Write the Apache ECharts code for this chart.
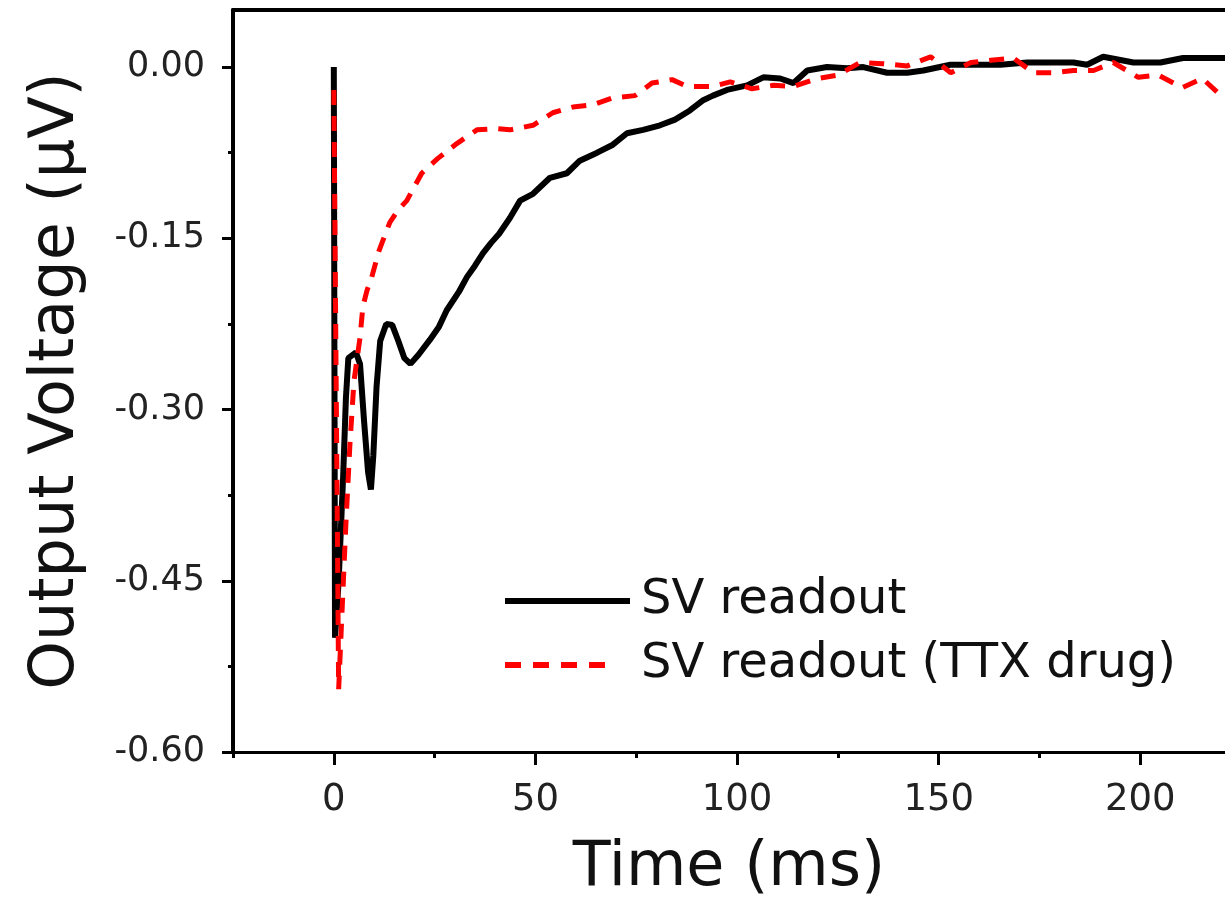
<!DOCTYPE html>
<html>
<head>
<meta charset="utf-8">
<script src="https://cdn.jsdelivr.net/npm/echarts@6/dist/echarts.min.js"></script>
<style>
  html, body { margin: 0; padding: 0; background: #fff; }
  #chart { width: 1225px; height: 899px; }
</style>
</head>
<body>
<div id="chart"></div>
<script>
// SV readout (black, solid)
const timeBlack = [0, 0.3, 1.2, 2.3, 3.0, 3.6, 5.5, 6.5, 7.5, 8.5,
  9.2, 9.8, 10.6, 11.5, 13, 14.5, 16, 17.5, 19, 21,
  23.8, 26, 28, 31, 33, 35, 37, 39, 41, 43.7,
  46.2, 49.4, 51.5, 53.6, 57.8, 61, 65.3, 69.2, 72.7, 76.7,
  80.9, 84.6, 88.3, 91.6, 94, 97.5, 102.5, 106.5, 110.7, 114,
  117.4, 122.3, 127.3, 131.3, 137.2, 142.2, 146.2, 152.9, 161, 165.3,
  172, 177.7, 183.4, 186.8, 190.8, 198.3, 205, 210.6, 221]
const voltBlack = [0, -0.50, -0.45, -0.36, -0.29, -0.255, -0.25, -0.26, -0.31, -0.355,
  -0.37, -0.34, -0.28, -0.24, -0.225, -0.226, -0.24, -0.255, -0.26, -0.252,
  -0.239, -0.228, -0.213, -0.197, -0.184, -0.174, -0.163, -0.154, -0.146, -0.132,
  -0.117, -0.111, -0.104, -0.097, -0.093, -0.082, -0.075, -0.068, -0.058, -0.055,
  -0.051, -0.046, -0.038, -0.029, -0.025, -0.020, -0.016, -0.009, -0.010, -0.014,
  -0.003, 0.000, -0.001, 0.000, -0.005, -0.005, -0.003, 0.002, 0.002, 0.002,
  0.004, 0.004, 0.004, 0.002, 0.009, 0.004, 0.004, 0.008, 0.008]

// SV readout with TTX drug (red, dashed)
const timeRed = [0, 1.2, 2.0, 3.0, 4.0, 5.0, 6.5, 7.2, 8.2, 9.4,
  11.2, 13.9, 16, 18.1, 21.8, 25.8, 30.5, 35.5, 40.4, 43.7,
  49.4, 54.3, 59.3, 64.3, 69.2, 74.7, 78.9, 83.9, 87.6, 94,
  98.3, 103.7, 109, 114, 120, 125, 130.5, 136, 142.2, 148,
  153, 158, 163, 168.5, 173.5, 178.5, 183.4, 188.4, 193.3, 199.5,
  204.5, 210.4, 215.4, 220]
const voltRed = [-0.02, -0.545, -0.48, -0.40, -0.33, -0.275, -0.237, -0.21, -0.196, -0.184,
  -0.161, -0.136, -0.125, -0.117, -0.093, -0.080, -0.067, -0.055, -0.054, -0.055,
  -0.051, -0.040, -0.035, -0.033, -0.027, -0.025, -0.014, -0.011, -0.017, -0.017,
  -0.013, -0.019, -0.016, -0.017, -0.010, -0.007, 0.004, 0.003, 0.001, 0.009,
  -0.005, 0.004, 0.006, 0.008, -0.005, -0.005, -0.003, -0.003, 0.004, -0.009,
  -0.007, -0.018, -0.010, -0.025]

const xMajorTicks = [0, 50, 100, 150, 200]
const xMinorTicks = [-25, 25, 75, 125, 175]
const yMajorTicks = [0, -0.15, -0.3, -0.45, -0.6]
const yMinorTicks = [-0.075, -0.225, -0.375, -0.525]

const seriesNames = ['SV readout', 'SV readout (TTX drug)']

const FONT = 'DejaVu Sans'
const X_MIN = -25, X_MAX = 221, Y_MIN = -0.6, Y_MAX = 0.05

// legend swatches: solid bar, and four dashes (tiny dot at the far end keeps the dash spacing)
const ICON_SOLID = 'rect'
const ICON_DASHED = 'path://M0,0h16v6h-16z M28,0h16v6h-16z M56,0h16v6h-16z M84,0h16v6h-16z M124.9,2.9h0.1v0.1h-0.1z'

const zip = (xs, ys) => xs.map((x, i) => [x, ys[i]])

const chart = echarts.init(document.getElementById('chart'))

const baseX = { type: 'value', min: X_MIN, max: X_MAX, splitLine: { show: false } }
const baseY = { type: 'value', min: Y_MIN, max: Y_MAX, splitLine: { show: false } }

chart.setOption({
  animation: false,
  backgroundColor: '#fff',
  grid: { left: 233, right: 0, top: 10, bottom: 147, containLabel: false, outerBoundsMode: 'none' },
  legend: {
    data: [
      { name: seriesNames[0], icon: ICON_SOLID, itemStyle: { color: '#000' } },
      { name: seriesNames[1], icon: ICON_DASHED, itemStyle: { color: '#ff0000' } }
    ],
    orient: 'vertical',
    left: 500,
    top: 572,
    itemWidth: 125,
    itemHeight: 6,
    itemGap: 16,
    textStyle: { fontFamily: FONT, fontSize: 48, color: '#111', padding: [0, 0, 0, 6] }
  },
  xAxis: [
    {
      ...baseX,
      position: 'bottom',
      name: 'Time (ms)',
      nameLocation: 'middle',
      nameGap: 86,
      nameTextStyle: { fontFamily: FONT, fontSize: 62, color: '#111' },
      axisLine: { onZero: false, lineStyle: { color: '#000', width: 3 } },
      axisTick: { customValues: xMajorTicks, length: 13, lineStyle: { color: '#000', width: 3 } },
      axisLabel: { customValues: xMajorTicks, margin: 30, fontFamily: FONT, fontSize: 37, color: '#222' }
    },
    {
      ...baseX,
      position: 'bottom',
      axisLine: { show: false, onZero: false },
      axisTick: { customValues: xMinorTicks, length: 6, lineStyle: { color: '#000', width: 3 } },
      axisLabel: { show: false }
    },
    {
      ...baseX,
      position: 'top',
      axisLine: { onZero: false, lineStyle: { color: '#000', width: 4 } },
      axisTick: { show: false },
      axisLabel: { show: false }
    }
  ],
  yAxis: [
    {
      ...baseY,
      position: 'left',
      name: 'Output Voltage (\u03BCV)',
      nameLocation: 'middle',
      nameGap: 145,
      nameTextStyle: { fontFamily: FONT, fontSize: 62, color: '#111' },
      axisLine: { onZero: false, lineStyle: { color: '#000', width: 4 } },
      axisTick: { customValues: yMajorTicks, length: 11, lineStyle: { color: '#000', width: 3 } },
      axisLabel: {
        customValues: yMajorTicks, margin: 28, fontFamily: FONT, fontSize: 35, color: '#222',
        formatter: v => v.toFixed(2)
      }
    },
    {
      ...baseY,
      position: 'left',
      axisLine: { show: false, onZero: false },
      axisTick: { customValues: yMinorTicks, length: 5, lineStyle: { color: '#000', width: 3 } },
      axisLabel: { show: false }
    }
  ],
  series: [
    {
      name: seriesNames[0],
      type: 'line',
      xAxisIndex: 0,
      yAxisIndex: 0,
      data: zip(timeBlack, voltBlack),
      showSymbol: false,
      symbol: 'none',
      lineStyle: { color: '#000', width: 6, type: 'solid' },
      itemStyle: { color: '#000' }
    },
    {
      name: seriesNames[1],
      type: 'line',
      xAxisIndex: 0,
      yAxisIndex: 0,
      data: zip(timeRed, voltRed),
      showSymbol: false,
      symbol: 'none',
      lineStyle: { color: '#ff0000', width: 5, type: [15, 11] },
      itemStyle: { color: '#ff0000' }
    }
  ]
})
</script>
</body>
</html>
